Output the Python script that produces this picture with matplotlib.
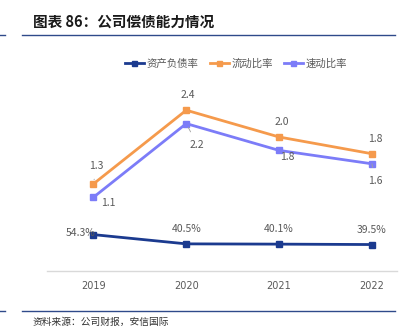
import matplotlib.pyplot as plt
import numpy as np

plt.rcParams['font.family'] = ['Noto Sans CJK SC', 'DejaVu Sans']

# Data
years = ['2019', '2020', '2021', '2022']
debt_ratio = [0.543, 0.405, 0.401, 0.395]     # 资产负债率 (drawn on same scale as ratios)
current_ratio = [1.3, 2.4, 2.0, 1.75]         # 流动比率
quick_ratio = [1.1, 2.2, 1.8, 1.6]            # 速动比率

debt_labels = ['54.3%', '40.5%', '40.1%', '39.5%']
current_labels = ['1.3', '2.4', '2.0', '1.8']
quick_labels = ['1.1', '2.2', '1.8', '1.6']

c_debt = '#1B3A8F'
c_cur = '#F59A4C'
c_quick = '#7C7CF8'
c_text = '#595959'

W, H = 407, 331
fig = plt.figure(figsize=(W / 100, H / 100), dpi=100)
ax = fig.add_axes([47 / W, (H - 271) / H, 350 / W, 201 / H])

x = np.arange(len(years))
ax.plot(x, debt_ratio, color=c_debt, lw=2, marker='s', ms=4.5, label='资产负债率')
ax.plot(x, current_ratio, color=c_cur, lw=2, marker='s', ms=4.5, label='流动比率')
ax.plot(x, quick_ratio, color=c_quick, lw=2, marker='s', ms=4.5, label='速动比率')

ax.set_xlim(-0.5, 3.27)
ax.set_ylim(0, 3.0)
ax.set_xticks(x)
ax.set_xticklabels(years, fontsize=7, color=c_text, family='DejaVu Sans')
ax.set_yticks([])
ax.tick_params(axis='x', length=0, pad=7)
for s in ['top', 'right', 'left']:
    ax.spines[s].set_visible(False)
ax.spines['bottom'].set_color('#d9d9d9')
ax.spines['bottom'].set_linewidth(1)

lab_kw = dict(textcoords='offset pixels', ha='center', va='center',
              fontsize=7.5, color=c_text)
lead_kw = dict(arrowstyle='-', color='#a0a0a0', lw=0.6, shrinkA=4, shrinkB=3)

cur_off = [(3, 18), (2, 15), (3, 15), (3, 15)]
for i, t in enumerate(current_labels):
    ax.annotate(t, (x[i], current_ratio[i]), xytext=cur_off[i],
                arrowprops=lead_kw if i == 0 else None, **lab_kw)

quick_off = [(15, -6), (11, -21), (8, -7), (3, -17)]
for i, t in enumerate(quick_labels):
    ax.annotate(t, (x[i], quick_ratio[i]), xytext=quick_off[i],
                arrowprops=lead_kw if i in (1, 3) else None, **lab_kw)

debt_off = [(-13, 2), (0, 15), (0, 15), (0, 15)]
for i, t in enumerate(debt_labels):
    ax.annotate(t, (x[i], debt_ratio[i]), xytext=debt_off[i], **lab_kw)

leg = ax.legend(loc='center', bbox_to_anchor=(0.54, 1.03), ncol=3, frameon=False,
                fontsize=7.5, handlelength=1.8, handletextpad=0.25, columnspacing=1.1,
                markerscale=0.8)
for t in leg.get_texts():
    t.set_color(c_text)

# header and footer
fig.text(33 / W, 1 - 22 / H, '图表 86：公司偿债能力情况', fontsize=10.5,
         fontweight='bold', color='#1a1a1a', va='center', ha='left')
fig.add_artist(plt.Line2D([22 / W, 395 / W], [1 - 35 / H] * 2, color='#2F4A8A', lw=1))
fig.add_artist(plt.Line2D([0, 5 / W], [1 - 35 / H] * 2, color='#2F4A8A', lw=1))
fig.add_artist(plt.Line2D([22 / W, 395 / W], [1 - 311 / H] * 2, color='#2F4A8A', lw=1))
fig.add_artist(plt.Line2D([0, 5 / W], [1 - 311 / H] * 2, color='#2F4A8A', lw=1))
fig.text(33 / W, 1 - 322 / H, '资料来源：公司财报，安信国际', fontsize=7,
         style='italic', color='#333333', va='center', ha='left')

fig.savefig('out.png', dpi=100)
